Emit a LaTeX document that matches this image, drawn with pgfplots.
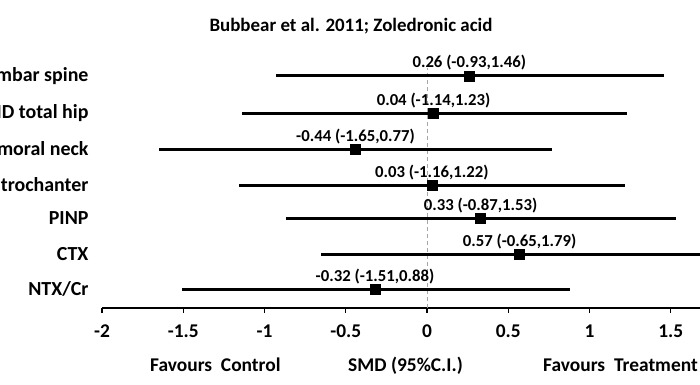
\documentclass[border=0pt]{standalone}
\usepackage{pgfplots}
\pgfplotsset{compat=1.18}
\usepackage{fontspec}
\setmainfont{Carlito}
\newcommand{\titlef}{\fontsize{19}{21}\selectfont\bfseries}
\newcommand{\rowf}{\fontsize{20}{22}\selectfont\bfseries}
\newcommand{\tickf}{\fontsize{19.5}{21}\selectfont\bfseries}
\newcommand{\smallf}{\fontsize{16.8}{18}\selectfont\bfseries}
\begin{document}
\begin{tikzpicture}[x=1bp,y=1bp]
\useasboundingbox (0,0) rectangle (700,384);
\clip (0,0) rectangle (700,384);
\begin{axis}[
  at={(102bp,76bp)}, anchor=south west,
  scale only axis, width=598bp, height=240bp,
  xmin=-2, xmax=1.68, ymin=76, ymax=316,
  axis x line*=bottom, axis y line*=left,
  y axis line style={draw=none},
  x axis line style={line width=1.2bp, black},
  ytick={95,130,166,199,235,271,308},
  yticklabels={NTX/Cr, CTX, PINP, BMD trochanter, BMD femoral neck, BMD total hip, BMD lumbar spine},
  ytick style={draw=none},
  yticklabel style={font=\rowf, xshift=-10bp},
  xtick={-2,-1.5,-1,-0.5,0,0.5,1,1.5},
  xticklabels={-2,-1.5,-1,-0.5,0,0.5,1,1.5},
  xtick align=outside,
  major tick length=5bp,
  xtick style={line width=1.2bp, black},
  xticklabel style={font=\tickf, yshift=-8bp},
  clip=false,
]
\draw[gray!70, dashed, line width=0.9bp, dash pattern=on 4bp off 3bp] (axis cs:0,76) -- (axis cs:0,316);
\addplot[only marks, mark=square*, mark size=5bp, black,
  error bars/.cd, x dir=both, x explicit, error mark=none,
  error bar style={line width=3bp, black},
  ] coordinates {
  (0.26,308) -= (1.19,0) += (1.20,0)
  (0.04,271) -= (1.18,0) += (1.19,0)
  (-0.44,235) -= (1.21,0) += (1.21,0)
  (0.03,199) -= (1.19,0) += (1.19,0)
  (0.33,166) -= (1.20,0) += (1.20,0)
  (0.57,130) -= (1.22,0) += (1.22,0)
  (-0.32,95) -= (1.19,0) += (1.20,0)
};
\addplot[only marks, mark=none, nodes near coords, point meta=explicit symbolic,
  every node near coord/.append style={anchor=base, yshift=8bp, font=\smallf, text=black, inner sep=0pt}]
  coordinates {
  (0.26,308) [0.26 (-0.93{,}1.46)]
  (0.04,271) [0.04 (-1.14{,}1.23)]
  (-0.44,235) [-0.44 (-1.65{,}0.77)]
  (0.03,199) [0.03 (-1.16{,}1.22)]
  (0.33,166) [0.33 (-0.87{,}1.53)]
  (0.57,130) [0.57 (-0.65{,}1.79)]
  (-0.32,95) [-0.32 (-1.51{,}0.88)]
};
\end{axis}
\node[anchor=base, font=\titlef] at (351,353) {Bubbear et al. 2011; Zoledronic acid};
\node[anchor=base west, font=\tickf, inner sep=0pt] at (150,13) {Favours\ \ Control};
\node[anchor=base west, font=\tickf, inner sep=0pt] at (348,13) {SMD (95\%C.I.)};
\node[anchor=base west, font=\tickf, inner sep=0pt] at (543,13) {Favours\ \ Treatment};
\end{tikzpicture}
\end{document}
